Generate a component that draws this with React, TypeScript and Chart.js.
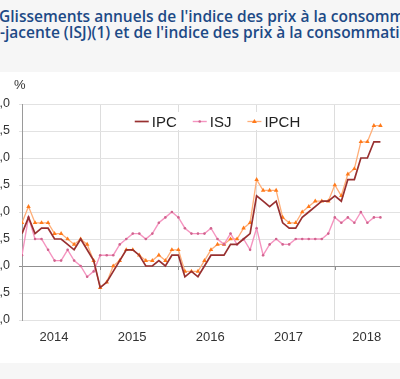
import React, { useEffect, useRef } from 'react';
import { Chart, registerables } from 'chart.js';

Chart.register(...registerables);

// ---- Data (monthly year-on-year change, %, Jan 2014 -> Aug 2018) ----
const yearLabels = ['2014', '2015', '2016', '2017', '2018'];
const seriesNames = ['IPC', 'ISJ', 'IPCH'];

const ipc = [
  0.6, 0.9, 0.6, 0.7, 0.7, 0.5, 0.5, 0.4, 0.3, 0.5, 0.3, 0.1,
  -0.4, -0.3, -0.1, 0.1, 0.3, 0.3, 0.2, 0.0, 0.0, 0.1, 0.0, 0.2,
  0.2, -0.2, -0.1, -0.2, 0.0, 0.2, 0.2, 0.2, 0.4, 0.4, 0.5, 0.6,
  1.3, 1.2, 1.1, 1.2, 0.8, 0.7, 0.7, 0.9, 1.0, 1.1, 1.2, 1.2,
  1.3, 1.2, 1.6, 1.6, 2.0, 2.0, 2.3, 2.3,
];
const isj = [
  0.2, 0.9, 0.5, 0.5, 0.3, 0.1, 0.1, 0.3, 0.1, 0.0, -0.2, -0.1,
  0.2, 0.2, 0.2, 0.4, 0.5, 0.6, 0.6, 0.5, 0.6, 0.8, 0.9, 1.0,
  0.9, 0.7, 0.6, 0.6, 0.6, 0.7, 0.5, 0.4, 0.6, 0.4, 0.5, 0.3,
  0.7, 0.2, 0.4, 0.5, 0.4, 0.4, 0.5, 0.5, 0.5, 0.5, 0.5, 0.6,
  0.9, 0.8, 0.9, 0.8, 1.0, 0.8, 0.9, 0.9,
];
const ipch = [
  0.8, 1.1, 0.8, 0.8, 0.8, 0.6, 0.6, 0.5, 0.4, 0.5, 0.4, 0.1,
  -0.4, -0.3, 0.0, 0.1, 0.3, 0.3, 0.2, 0.1, 0.1, 0.2, 0.1, 0.3,
  0.3, -0.1, -0.1, -0.1, 0.1, 0.3, 0.4, 0.4, 0.5, 0.5, 0.7, 0.8,
  1.6, 1.4, 1.4, 1.4, 0.9, 0.8, 0.8, 1.0, 1.1, 1.2, 1.2, 1.2,
  1.5, 1.3, 1.7, 1.8, 2.3, 2.3, 2.6, 2.6,
];
const yTickValues = [-1, -0.5, 0, 0.5, 1, 1.5, 2, 2.5, 3];

const X_MAX = 60; // months shown on the axis (Jan 2014 + 60)
const yearStarts = yearLabels.map((_, k) => k * 12);
const yearLabelPos = yearStarts.map((s) => {
  const end = Math.min(s + 12, X_MAX);
  return end - s === 12 ? s + 4.9 : (s + end) / 2;
});

const COLORS = {
  ipc: '#983030',
  isjLine: '#f595c0',
  isjPoint: '#d0648e',
  ipchLine: '#ffae78',
  ipchPoint: '#ff7a1a',
};

const FONT = '"Liberation Sans", Arial, sans-serif';

const toPoints = (arr: number[]) => arr.map((v, i) => ({ x: i, y: v }));

const inlineLegend = {
  id: 'inlineLegend',
  beforeDatasetsDraw(chart: any) {
    // small marks on the zero line at each year boundary
    const { ctx } = chart;
    const xs = chart.scales.x;
    const ys = chart.scales.y;
    const y0 = ys.getPixelForValue(0);
    ctx.save();
    ctx.strokeStyle = '#8f8f8f';
    ctx.lineWidth = 1;
    yearStarts.slice(1).forEach((v) => {
      const px = Math.round(xs.getPixelForValue(v)) + 0.5;
      ctx.beginPath();
      ctx.moveTo(px, y0);
      ctx.lineTo(px, y0 + 4);
      ctx.stroke();
    });
    ctx.restore();
  },
  afterDatasetsDraw(chart: any) {
    const { ctx, chartArea } = chart;
    const sampleW = 14;
    const textGap = 3;
    const itemGap = 16;
    ctx.save();
    ctx.font = `15px ${FONT}`;
    const dss = chart.data.datasets;
    const widths = dss.map((d: any) => ctx.measureText(d.label).width);
    const total =
      widths.reduce((a: number, w: number) => a + w + sampleW + textGap, 0) +
      itemGap * (dss.length - 1);
    let x = (chartArea.left + chartArea.right) / 2 - total / 2;
    const lineY = chartArea.top + 17.5;
    const baseY = chartArea.top + 23.3;
    ctx.fillStyle = '#ffffff';
    ctx.fillRect(x - 6, chartArea.top + 8, total + 12, 18);
    dss.forEach((d: any, i: number) => {
      ctx.strokeStyle = d.borderColor;
      ctx.lineWidth = d.borderWidth;
      ctx.beginPath();
      ctx.moveTo(x, lineY);
      ctx.lineTo(x + sampleW, lineY);
      ctx.stroke();
      const cx = x + sampleW / 2;
      if (d.pointStyle === 'triangle') {
        const r = d.pointRadius;
        ctx.fillStyle = d.pointBackgroundColor;
        ctx.beginPath();
        ctx.moveTo(cx, lineY - r);
        ctx.lineTo(cx + r * 0.95, lineY + r * 0.6);
        ctx.lineTo(cx - r * 0.95, lineY + r * 0.6);
        ctx.closePath();
        ctx.fill();
      } else if (d.pointRadius > 0) {
        ctx.fillStyle = d.pointBackgroundColor;
        ctx.beginPath();
        ctx.arc(cx, lineY, d.pointRadius, 0, Math.PI * 2);
        ctx.fill();
      }
      ctx.fillStyle = '#222222';
      ctx.textBaseline = 'alphabetic';
      ctx.textAlign = 'left';
      ctx.fillText(d.label, x + sampleW + textGap, baseY);
      x += sampleW + textGap + widths[i] + itemGap;
    });
    ctx.restore();
  },
};

function ChartCanvas() {
  const ref = useRef<HTMLCanvasElement | null>(null);
  useEffect(() => {
    if (!ref.current) return;
    const chart = new Chart(ref.current, {
      type: 'line',
      data: {
        datasets: [
          {
            label: seriesNames[0],
            data: toPoints(ipc),
            borderColor: COLORS.ipc,
            backgroundColor: COLORS.ipc,
            borderWidth: 1.7,
            pointRadius: 0,
            tension: 0,
          },
          {
            label: seriesNames[1],
            data: toPoints(isj),
            borderColor: COLORS.isjLine,
            backgroundColor: COLORS.isjPoint,
            borderWidth: 1.4,
            pointRadius: 1.3,
            pointBackgroundColor: COLORS.isjPoint,
            pointBorderColor: COLORS.isjPoint,
            pointBorderWidth: 0,
            tension: 0,
          },
          {
            label: seriesNames[2],
            data: toPoints(ipch),
            borderColor: COLORS.ipchLine,
            backgroundColor: COLORS.ipchPoint,
            borderWidth: 1.3,
            pointStyle: 'triangle',
            pointRadius: 2.6,
            pointBackgroundColor: COLORS.ipchPoint,
            pointBorderColor: COLORS.ipchPoint,
            pointBorderWidth: 0,
            tension: 0,
          },
        ] as any,
      },
      options: {
        animation: false,
        responsive: false,
        maintainAspectRatio: false,
        layout: { padding: { top: 32, bottom: 17, left: 0, right: 0 } },
        plugins: {
          legend: { display: false },
          tooltip: { enabled: false },
        },
        scales: {
          x: {
            type: 'linear',
            min: 0,
            max: X_MAX,
            afterBuildTicks: (s: any) => {
              const vals = [...yearStarts, ...yearLabelPos].sort((a, b) => a - b);
              s.ticks = vals.map((v) => ({ value: v }));
            },
            afterFit: (s: any) => {
              s.height = 26;
            },
            grid: {
              color: (c: any) =>
                c.tick && yearStarts.includes(c.tick.value) ? '#dddddd' : 'rgba(0,0,0,0)',
              drawTicks: false,
            },
            border: { display: false },
            ticks: {
              autoSkip: false,
              maxRotation: 0,
              padding: 10,
              color: '#333333',
              font: { family: FONT, size: 13 },
              callback: (v: any) => {
                const idx = yearLabelPos.indexOf(Number(v));
                return idx >= 0 ? yearLabels[idx] : '';
              },
            },
          },
          y: {
            min: -1,
            max: 3,
            afterBuildTicks: (s: any) => {
              s.ticks = yTickValues.map((v) => ({ value: v }));
            },
            afterFit: (s: any) => {
              s.width = 34;
            },
            grid: {
              color: (c: any) => (c.tick && c.tick.value === 0 ? '#8f8f8f' : '#e2e2e2'),
              tickLength: 3,
              drawTicks: true,
            },
            border: { display: true, color: '#9a9a9a', width: 1 },
            ticks: {
              padding: 9,
              color: '#333333',
              font: { family: FONT, size: 12.5 },
              callback: (v: any) => Number(v).toFixed(1).replace('.', ','),
            },
          },
        },
      } as any,
      plugins: [inlineLegend],
    });
    return () => chart.destroy();
  }, []);
  return (
    <canvas
      ref={ref}
      width={429}
      height={291}
      style={{ width: 429, height: 291, display: 'block' }}
    />
  );
}

export default function App() {
  useEffect(() => {
    document.body.style.margin = '0';
  }, []);
  const titleStyle: React.CSSProperties = {
    position: 'absolute',
    left: -1,
    whiteSpace: 'nowrap',
    fontFamily: '"Open Sans", sans-serif',
    fontWeight: 600,
    fontSize: 15.5,
    lineHeight: '16px',
    color: '#1d4a86',
  };
  return (
    <div
      style={{
        position: 'relative',
        width: 400,
        height: 379,
        overflow: 'hidden',
        background: '#f6f6f6',
      }}
    >
      <div style={{ ...titleStyle, top: 8.2 }}>
        Glissements annuels de l'indice des prix à la consommation
      </div>
      <div style={{ ...titleStyle, top: 23.5, left: 0 }}>
        -jacente (ISJ)(1) et de l'indice des prix à la consommation
      </div>
      <div
        style={{
          position: 'absolute',
          top: 72,
          left: 0,
          width: 400,
          height: 291,
          background: '#ffffff',
          overflow: 'hidden',
        }}
      >
        <div style={{ position: 'absolute', left: -12, top: 0, width: 429, height: 291 }}>
          <ChartCanvas />
        </div>
        <span
          style={{
            position: 'absolute',
            left: 14,
            top: 5.5,
            fontFamily: FONT,
            fontSize: 13,
            lineHeight: '13px',
            color: '#333333',
          }}
        >
          %
        </span>
      </div>
    </div>
  );
}
